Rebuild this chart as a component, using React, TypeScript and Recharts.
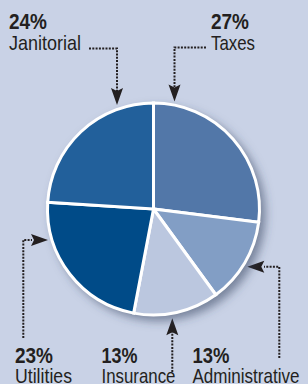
import React from "react";
import { PieChart, Pie, Cell } from "recharts";

// ---- data ----
const categories = ["Taxes", "Administrative", "Insurance", "Utilities", "Janitorial"];
const values = [27, 13, 13, 23, 24];
const percentLabels = ["27%", "13%", "13%", "23%", "24%"];
const colors = ["#5277a8", "#829ec5", "#bbc7df", "#004b88", "#22609b"];

const data = categories.map((name, i) => ({ name, value: values[i] }));
const shadowData = [{ name: "shadow", value: 1 }];

// ---- layout (annotation positions) ----
const W = 308;
const H = 384;
const BG = "#c9d2e6";
const INK = "#231f20";
const CX = 153.5;
const CY = 209;
const R = 106;

type Anno = {
  x: number;
  pctY: number;
  nameY: number;
  pctW: number;
  nameW: number;
  path: [number, number][];
  tip: [number, number];
  dir: "down" | "up" | "left" | "right";
};

const annotations: Anno[] = [
  { x: 211, pctY: 28.5, nameY: 49.5, pctW: 38, nameW: 44, path: [[206, 47.5], [174.5, 47.5], [174.5, 87]], tip: [174.5, 101.5], dir: "down" },
  { x: 192.5, pctY: 362.5, nameY: 382.5, pctW: 37, nameW: 107, path: [[279.3, 358], [279.3, 266.7], [264, 266.7]], tip: [247.3, 266.7], dir: "left" },
  { x: 101.5, pctY: 362.5, nameY: 382.5, pctW: 36, nameW: 74, path: [[172.3, 372], [172.3, 332]], tip: [172.3, 318.3], dir: "up" },
  { x: 15, pctY: 362.5, nameY: 382.5, pctW: 38, nameW: 57, path: [[23.3, 338], [23.3, 240], [32, 240]], tip: [48, 240], dir: "right" },
  { x: 9, pctY: 28.5, nameY: 49.5, pctW: 38, nameW: 72, path: [[89, 48.5], [117, 48.5], [117, 91]], tip: [117, 105], dir: "down" },
];

function arrowHead(tip: [number, number], dir: Anno["dir"]) {
  const L = 17;
  const hw = 6;
  const notch = 3;
  const [tx, ty] = tip;
  let ux = 0, uy = 0;
  if (dir === "down") uy = 1;
  if (dir === "up") uy = -1;
  if (dir === "left") ux = -1;
  if (dir === "right") ux = 1;
  // base center
  const bx = tx - ux * L;
  const by = ty - uy * L;
  const px = -uy, py = ux;
  const p1 = [bx + px * hw, by + py * hw];
  const p2 = [tx - ux * (L - notch), ty - uy * (L - notch)];
  const p3 = [bx - px * hw, by - py * hw];
  return `M${tx},${ty} L${p1[0]},${p1[1]} L${p2[0]},${p2[1]} L${p3[0]},${p3[1]} Z`;
}

const FONT = "'Liberation Sans Narrow', 'Liberation Sans', Arial, sans-serif";

export default function App() {
  return (
    <div style={{ position: "absolute", left: 0, top: 0, width: W, height: H, background: BG, overflow: "hidden" }}>
      <PieChart width={W} height={H} margin={{ top: 0, right: 0, bottom: 0, left: 0 }}>
        <defs>
          <filter id="pieShadow" x="-30%" y="-30%" width="160%" height="160%">
            <feGaussianBlur in="SourceAlpha" stdDeviation="5" />
            <feOffset dx="5" dy="5" result="b" />
            <feFlood floodColor="#34425e" floodOpacity="0.55" />
            <feComposite in2="b" operator="in" />
          </filter>
        </defs>
        <Pie
          data={shadowData}
          dataKey="value"
          cx={CX}
          cy={CY}
          innerRadius={0}
          outerRadius={R + 1}
          startAngle={90}
          endAngle={-270}
          stroke="none"
          isAnimationActive={false}
          label={false}
          labelLine={false}
        >
          <Cell fill="#000" filter="url(#pieShadow)" />
        </Pie>
        <Pie
          data={data}
          dataKey="value"
          nameKey="name"
          cx={CX}
          cy={CY}
          innerRadius={0}
          outerRadius={R}
          startAngle={90}
          endAngle={-270}
          stroke="#ffffff"
          strokeWidth={3}
          isAnimationActive={false}
          label={false}
          labelLine={false}
        >
          {data.map((d, i) => (
            <Cell key={d.name} fill={colors[i]} stroke="#ffffff" strokeWidth={3} />
          ))}
        </Pie>
        <g>
          {annotations.map((a, i) => (
            <g key={categories[i]}>
              <polyline
                points={a.path.map((p) => p.join(",")).join(" ")}
                fill="none"
                stroke={INK}
                strokeWidth={2}
                strokeDasharray="2 1.3"
              />
              <path d={arrowHead(a.tip, a.dir)} fill={INK} />
              <text
                x={a.x}
                y={a.pctY}
                fontFamily={FONT}
                fontWeight={700}
                fontSize={22}
                fill={INK}
                textLength={a.pctW}
                lengthAdjust="spacingAndGlyphs"
              >
                {percentLabels[i]}
              </text>
              <text
                x={a.x}
                y={a.nameY}
                fontFamily={FONT}
                fontSize={21}
                fill={INK}
                textLength={a.nameW}
                lengthAdjust="spacingAndGlyphs"
              >
                {categories[i]}
              </text>
            </g>
          ))}
        </g>
      </PieChart>
    </div>
  );
}
